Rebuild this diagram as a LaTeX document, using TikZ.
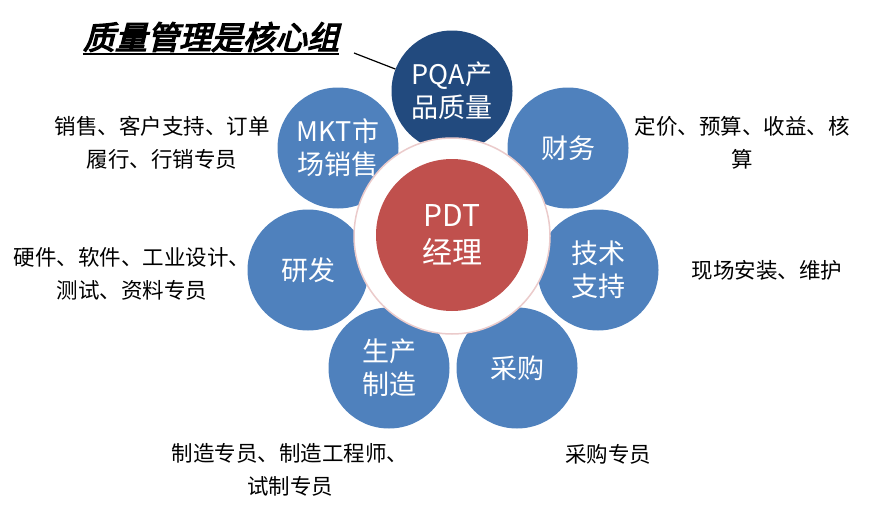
\documentclass[tikz,border=0pt]{standalone}
\usepackage{fontspec}
\setmainfont{Noto Sans CJK SC}
\newfontfamily\titlefont[FakeSlant=0.25,FakeBold=4]{Noto Sans CJK SC}
\definecolor{bblue}{HTML}{4F81BD}
\definecolor{dblue}{HTML}{224A7E}
\definecolor{pred}{HTML}{C0504D}
\definecolor{ringline}{HTML}{EBCBCB}
\begin{document}
\begin{tikzpicture}[x=1pt,y=-1pt,
  bub/.style={circle, fill=bblue, minimum size=121pt, inner sep=0pt, text=white,
    font=\fontsize{27}{33}\selectfont, align=center},
  lab/.style={font=\fontsize{21.5}{33}\selectfont, align=center, inner sep=0pt, text=black},
  ringst/.style={circle, fill=white, draw=ringline, line width=1.5pt, minimum size=196pt, inner sep=0pt},
  core/.style={circle, fill=pred, minimum size=152pt, inner sep=0pt, text=white,
    font=\fontsize{30}{37}\selectfont, align=center}]
\useasboundingbox (0,0) rectangle (878,522);

% outer bubbles
\node[bub, fill=dblue] (pqa) at (452,91) {PQA产\\品质量};
\node[bub] (mkt) at (338,148) {MKT市\\场销售};
\node[bub] (fin) at (568,148) {财务};
\node[bub] (rd) at (308,270) {研发};
\node[bub] (ts) at (598,270) {技术\\支持};
\node[bub] (mfg) at (389,368) {生产\\制造};
\node[bub] (pur) at (517,368) {采购};

% centre
\node[ringst] (ring) at (452,236) {};
\node[core] (pdt) at (452,235) {PDT\\经理};

% side labels
\node[lab] (lmkt) at (162,143) {销售、客户支持、订单\\履行、行销专员};
\node[lab] (lrd) at (132,274) {硬件、软件、工业设计、\\测试、资料专员};
\node[lab] (lfin) at (742,143) {定价、预算、收益、核\\算};
\node[lab] (lts) at (767,270) {现场安装、维护};
\node[lab] (lmfg) at (290,470) {制造专员、制造工程师、\\试制专员};
\node[lab] (lpur) at (608,454) {采购专员};

% title
\node[inner sep=0pt, font=\titlefont\fontsize{32}{36}\selectfont] (title) at (211,37) {质量管理是核心组};
\draw[line width=2.4pt] ([yshift=-2pt]title.south west) -- ([yshift=-2pt]title.south east);
\coordinate (lt) at (354,53);
\draw[line width=1.2pt] (lt) -- (pqa);
\end{tikzpicture}
\end{document}
